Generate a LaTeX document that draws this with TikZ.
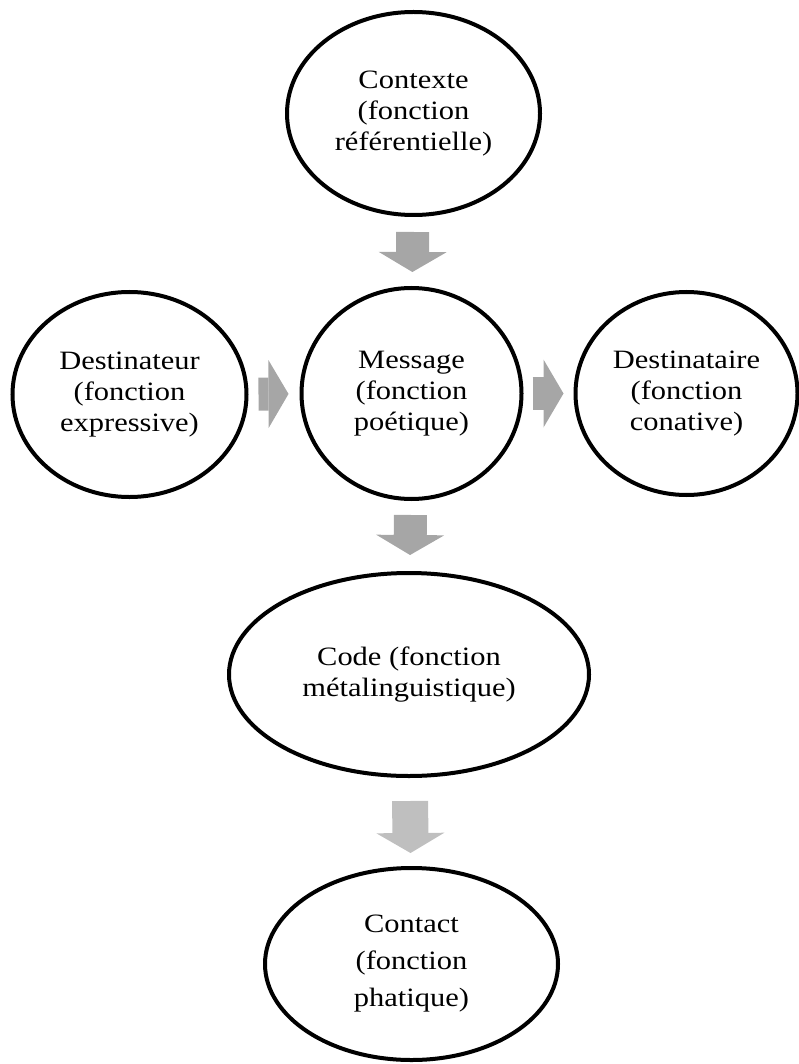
\documentclass[tikz,border=0pt]{standalone}
\usepackage{fontspec}
\setmainfont{Liberation Serif}
\newcommand{\wide}[1]{\scalebox{1.15}[1]{#1}}
\usetikzlibrary{shapes,arrows.meta,positioning}

\begin{document}
\begin{tikzpicture}[x=1pt, y=-1pt,
      func/.style={draw, ellipse, line width=4pt, inner sep=0pt, outer sep=0pt,
        align=center, font=\fontsize{26.5}{31}\selectfont},
      flow/.style={line width=33pt, gray!70,
        -{Triangle[length=20pt, width=68pt, line width=0pt]}}
    ]
      \useasboundingbox (0,0) rectangle (799,1064);

      % Message in the middle
      \node[func, minimum width=220pt, minimum height=211pt] (message) at (411.5,393.5)
        {\wide{Message}\\\wide{(fonction}\\\wide{poétique)}};

      % Contexte
      \node[func, minimum width=253pt, minimum height=203pt, above=73pt of message, xshift=2pt] (contexte)
        {\wide{Contexte}\\\wide{(fonction}\\\wide{référentielle)}};

      % Destinateur / Destinataire
      \node[func, minimum width=234pt, minimum height=205pt, left=55pt of message, yshift=-1pt] (destinateur)
        {\wide{Destinateur}\\\wide{(fonction}\\\wide{expressive)}};
      \node[func, minimum width=222pt, minimum height=203pt, right=54pt of message] (destinataire)
        {\wide{Destinataire}\\\wide{(fonction}\\\wide{conative)}};

      % Code
      \node[func, minimum width=360pt, minimum height=203pt, below=74pt of message, xshift=-2.5pt] (code)
        {\wide{Code (fonction}\\\wide{métalinguistique)}};

      % Contact
      \node[func, minimum width=293pt, minimum height=192pt, below=92pt of code, xshift=2.5pt,
        font=\fontsize{26.5}{37}\selectfont] (contact)
        {\wide{Contact}\\\wide{(fonction}\\\wide{phatique)}};

      % Arrows
      \draw[flow, shorten <=17pt, shorten >=16pt] (contexte) -- (message);
      \draw[flow, shorten <=12pt, shorten >=13pt] (destinateur) -- (message);
      \draw[flow, shorten <=11pt, shorten >=12pt] (message) -- (destinataire);
      \draw[flow, shorten <=16pt, shorten >=18pt] (message) -- (code);
      \draw[flow, gray!50, line width=36pt, shorten <=25pt, shorten >=15pt] (code) -- (contact);
    \end{tikzpicture}
\end{document}
